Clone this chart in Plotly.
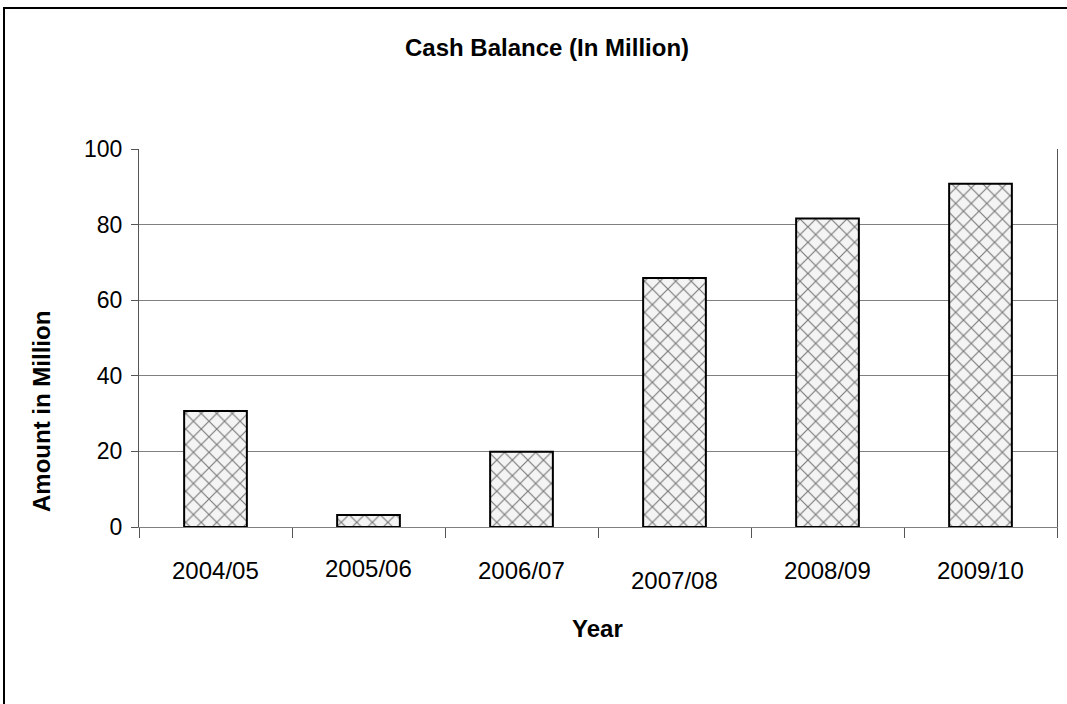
import plotly.graph_objects as go

years = ["2004/05", "2005/06", "2006/07", "2007/08", "2008/09", "2009/10"]
cash_balance = [30.7, 3.2, 19.9, 65.9, 81.6, 90.8]
y_ticks = [0, 20, 40, 60, 80, 100]

W, H = 1067, 704
L, R, T, B = 139, 1057, 149, 527
pw, ph = R - L, B - T

def px_x(x):
    return (x - L) / pw

def px_y(y):
    return (B - y) / ph

FONT = "Liberation Sans, Arial, sans-serif"

fig = go.Figure()
fig.add_trace(go.Bar(
    x=years, y=cash_balance,
    marker=dict(
        color="#f4f4f4",
        line=dict(color="black", width=2),
        pattern=dict(shape="x", fgcolor="#000000", bgcolor="#f4f4f4", size=11, solidity=0.2),
    ),
    width=0.41,
    showlegend=False,
))

# per-label vertical offsets (px below plot bottom) mimicking the staggered labels
label_offsets = [43, 41, 43, 53, 43, 43]
annotations = []
for cat, off in zip(years, label_offsets):
    annotations.append(dict(
        x=cat, y=px_y(B + off), xref="x", yref="paper", text=cat,
        showarrow=False, font=dict(family=FONT, size=24, color="black"),
        xanchor="center", yanchor="middle",
    ))
annotations.append(dict(
    x=px_x(547), y=px_y(47), xref="paper", yref="paper", text="<b>Cash Balance (In Million)</b>",
    showarrow=False, font=dict(family=FONT, size=24, color="black"), xanchor="center", yanchor="middle"))
annotations.append(dict(
    x=px_x(597), y=px_y(628), xref="paper", yref="paper", text="<b>Year</b>",
    showarrow=False, font=dict(family=FONT, size=24, color="black"), xanchor="center", yanchor="middle"))
annotations.append(dict(
    x=px_x(41), y=px_y(412), xref="paper", yref="paper", text="<b>Amount in Million</b>",
    textangle=-90, showarrow=False, font=dict(family=FONT, size=24, color="black"),
    xanchor="center", yanchor="middle"))

fig.update_layout(
    width=W, height=H,
    margin=dict(l=L, r=W - R, t=T, b=H - B, pad=0),
    paper_bgcolor="white", plot_bgcolor="white",
    font=dict(family=FONT, size=23, color="black"),
    annotations=annotations,
    shapes=[dict(type="rect", xref="paper", yref="paper",
                 x0=px_x(4), y0=px_y(8), x1=px_x(1075), y1=px_y(715),
                 line=dict(color="black", width=2), fillcolor="rgba(0,0,0,0)", layer="below")],
    xaxis=dict(
        type="category", showticklabels=False, tickson="boundaries",
        ticks="outside", ticklen=10, tickcolor="#555555", tickwidth=1,
        showline=True, linecolor="#808080", linewidth=1, showgrid=False,
        range=[-0.5, 5.5], fixedrange=True,
    ),
    yaxis=dict(
        range=[0, 100], tickvals=y_ticks, ticks="outside", ticklen=7,
        tickcolor="#555555", showline=True, linecolor="#555555", linewidth=1,
        mirror=True, showgrid=True, gridcolor="#808080", gridwidth=1,
        zeroline=False, tickfont=dict(family=FONT, size=23, color="black"),
        ticklabelstandoff=4, fixedrange=True,
    ),
)

fig.write_html("out.html", config={"displayModeBar": False},
               post_script="document.body.style.margin='0';")
